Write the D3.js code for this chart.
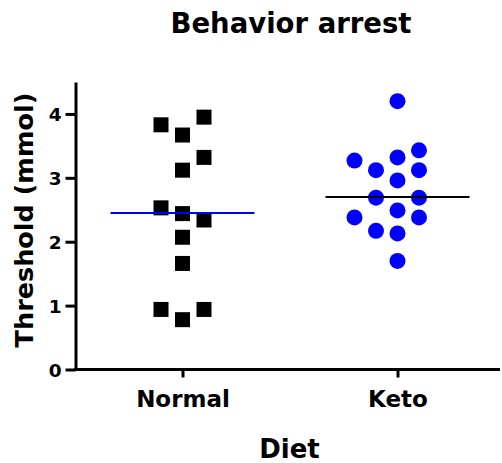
<!DOCTYPE html>
<html>
<head>
<meta charset="utf-8">
<script src="https://cdn.jsdelivr.net/npm/d3@7"></script>
<style>
  html, body { margin: 0; padding: 0; background: #fff; }
  svg text { font-family: "DejaVu Sans", sans-serif; font-weight: bold; fill: #000; }
</style>
</head>
<body>
<svg id="chart" width="502" height="463"></svg>
<script>
// ---- data ----
const categories = ["Normal", "Keto"];
const normalValues = [3.83, 3.67, 3.95, 3.32, 3.12, 2.53, 2.44, 2.34, 2.07, 1.66, 0.94, 0.94, 0.78];
const normalLanes  = [-1, 0, 1, 1, 0, -1, 0, 1, 0, 0, -1, 1, 0];
const ketoValues   = [4.20, 3.27, 3.12, 3.32, 3.43, 3.12, 2.96, 2.69, 2.69, 2.49, 2.38, 2.38, 2.17, 2.13, 1.70];
const ketoLanes    = [0, -2, -1, 0, 1, 1, 0, -1, 1, 0, -2, 1, -1, 0, 0];
const groupMeans   = [2.45, 2.70];
const yTicks = [0, 1, 2, 3, 4];

const title = "Behavior arrest";
const xTitle = "Diet";
const yTitle = "Threshold (mmol)";

// ---- layout ----
const svg = d3.select("#chart");
const plotLeft = 75.5, plotRight = 500, plotTop = 82, plotBottom = 369.5;

const x = d3.scalePoint().domain(categories).range([182.5, 397.5]);
const y = d3.scaleLinear().domain([0, 4.5]).range([plotBottom, plotTop]);
const lane = d3.scaleLinear().domain([-1, 1]).range([-21.5, 21.5]);

// y axis
const yAxis = svg.append("g")
  .attr("transform", `translate(${plotLeft},0)`)
  .call(d3.axisLeft(y).tickValues(yTicks).tickFormat(d3.format("d")).tickSize(10).tickPadding(4).tickSizeOuter(0));
yAxis.select(".domain").attr("stroke-width", 3).attr("stroke", "#000");
yAxis.selectAll(".tick line").attr("stroke-width", 3).attr("stroke", "#000");
yAxis.selectAll(".tick text").style("font-size", "18.5px").attr("dy", "0.36em");

// x axis
const xAxis = svg.append("g")
  .attr("transform", `translate(0,${plotBottom})`)
  .call(d3.axisBottom(x).tickSize(8).tickPadding(0).tickSizeOuter(0));
xAxis.select(".domain").attr("d", `M${plotLeft - 1.5},0H${plotRight}`).attr("stroke-width", 3).attr("stroke", "#000");
xAxis.selectAll(".tick line").attr("stroke-width", 3).attr("stroke", "#000");
xAxis.selectAll(".tick text").style("font-size", "23px").attr("dy", null).attr("y", 37);

// Normal points: black squares
const sq = 15;
svg.append("g").selectAll("rect")
  .data(normalValues.map((v, i) => ({ v, l: normalLanes[i] })))
  .join("rect")
  .attr("x", d => x("Normal") + lane(d.l) - sq / 2)
  .attr("y", d => y(d.v) - sq / 2)
  .attr("width", sq).attr("height", sq)
  .attr("fill", "#000");

// Keto points: blue circles
svg.append("g").selectAll("circle")
  .data(ketoValues.map((v, i) => ({ v, l: ketoLanes[i] })))
  .join("circle")
  .attr("cx", d => x("Keto") + lane(d.l))
  .attr("cy", d => y(d.v))
  .attr("r", 8)
  .attr("fill", "#0000ff");

// mean lines
const meanColors = ["#0000ff", "#000"];
svg.append("g").selectAll("line")
  .data(categories.map((c, i) => ({ c, m: groupMeans[i], col: meanColors[i] })))
  .join("line")
  .attr("x1", d => x(d.c) - 72).attr("x2", d => x(d.c) + 72)
  .attr("y1", d => y(d.m)).attr("y2", d => y(d.m))
  .attr("stroke", d => d.col).attr("stroke-width", 2);

// titles
svg.append("text").attr("x", 291).attr("y", 33).attr("text-anchor", "middle")
  .style("font-size", "27.5px").text(title);
svg.append("text").attr("x", 289.5).attr("y", 458).attr("text-anchor", "middle")
  .style("font-size", "26px").text(xTitle);
svg.append("text").attr("transform", `translate(33,220) rotate(-90)`).attr("text-anchor", "middle")
  .style("font-size", "25.5px").text(yTitle);
</script>
</body>
</html>
